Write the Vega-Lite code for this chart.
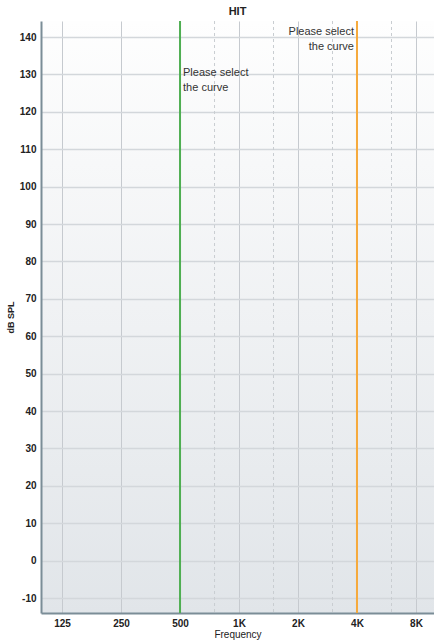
{
  "$schema": "https://vega.github.io/schema/vega-lite/v6.json",
  "width": 393,
  "height": 592,
  "autosize": "none",
  "padding": {"left": 41, "top": 21, "right": 0, "bottom": 27},
  "title": {"text": "HIT", "fontSize": 11, "font": "Liberation Sans", "fontWeight": "bold", "color": "#222222", "offset": 3},
  "config": {
    "view": {"stroke": null, "fill": {"gradient": "linear", "x1": 0, "y1": 0, "x2": 0, "y2": 1, "stops": [{"offset": 0, "color": "#fefefe"}, {"offset": 1, "color": "#e1e5e9"}]}},
    "axis": {"labelFont": "Liberation Sans", "labelFontWeight": "bold", "labelFontSize": 10, "labelColor": "#222222", "titleFont": "Liberation Sans", "titleColor": "#222222", "ticks": false, "domainColor": "#7b8d97", "domainWidth": 2, "labelPadding": 5, "labelOverlap": false}
  },
  "datasets": {
    "minor": [{"freq": 750}, {"freq": 1500}, {"freq": 3000}, {"freq": 6000}],
    "curves": [{"freq": 500, "curve": "left"}, {"freq": 4000, "curve": "right"}],
    "noteLeft": [{"freq": 500, "db": 132, "text": "Please select\nthe curve"}],
    "noteRight": [{"freq": 4000, "db": 143, "text": "Please select\nthe curve"}]
  },
  "layer": [
    {
      "data": {"name": "minor"},
      "mark": {"type": "rule", "color": "#c9cdd1", "strokeWidth": 1, "strokeDash": [3, 3]},
      "encoding": {
        "x": {"field": "freq", "type": "quantitative", "scale": {"type": "log", "base": 2, "domain": [97.6, 9888], "nice": false},
          "axis": {"values": [125, 250, 500, 1000, 2000, 4000, 8000], "tickCount": 20, "labelExpr": "datum.value >= 1000 ? (datum.value/1000) + 'K' : datum.value", "grid": true, "gridColor": "#c6cacf", "gridWidth": 1, "title": "Frequency", "titleFontSize": 10, "titleFontWeight": "normal", "titlePadding": 1}}
      }
    },
    {
      "data": {"name": "noteLeft"},
      "mark": {"type": "rule", "color": "#7b8d97", "strokeWidth": 2},
      "encoding": {
        "y": {"field": "db", "type": "quantitative", "scale": {"domain": [-14, 144.3], "nice": false, "zero": false},
          "axis": {"values": [-10, 0, 10, 20, 30, 40, 50, 60, 70, 80, 90, 100, 110, 120, 130, 140], "tickCount": 30, "labelExpr": "'' + datum.value", "labelOverlap": false, "grid": true, "gridColor": "#d3d7db", "gridWidth": 1.5, "title": "dB SPL", "titleFontSize": 9, "titleFontWeight": "bold", "titlePadding": 4}},
        "opacity": {"value": 0}
      }
    },
    {
      "mark": {"type": "rule", "color": "#7b8d97", "strokeWidth": 2},
      "encoding": {"y": {"datum": 144.3, "type": "quantitative"}}
    },
    {
      "mark": {"type": "rect", "color": "white", "opacity": 1},
      "encoding": {
        "x": {"datum": 506, "type": "quantitative"}, "x2": {"datum": 1124},
        "y": {"datum": 132, "type": "quantitative"}, "y2": {"datum": 123.7}
      }
    },
    {
      "mark": {"type": "rect", "color": "white", "opacity": 1},
      "encoding": {
        "x": {"datum": 1797, "type": "quantitative"}, "x2": {"datum": 3937},
        "y": {"datum": 143.2, "type": "quantitative"}, "y2": {"datum": 134.7}
      }
    },
    {
      "data": {"name": "curves"},
      "mark": {"type": "rule", "strokeWidth": 2},
      "encoding": {
        "x": {"field": "freq", "type": "quantitative"},
        "color": {"field": "curve", "type": "nominal", "scale": {"domain": ["left", "right"], "range": ["#4fae52", "#f6aa3c"]}, "legend": null}
      }
    },
    {
      "data": {"name": "noteLeft"},
      "mark": {"type": "text", "align": "left", "baseline": "top", "dx": 3, "font": "Liberation Sans", "fontSize": 11, "lineHeight": 15, "lineBreak": "\n", "color": "#333333"},
      "encoding": {
        "x": {"field": "freq", "type": "quantitative"},
        "y": {"field": "db", "type": "quantitative"},
        "text": {"field": "text"}
      }
    },
    {
      "data": {"name": "noteRight"},
      "mark": {"type": "text", "align": "right", "baseline": "top", "dx": -3, "font": "Liberation Sans", "fontSize": 11, "lineHeight": 15, "lineBreak": "\n", "color": "#333333"},
      "encoding": {
        "x": {"field": "freq", "type": "quantitative"},
        "y": {"field": "db", "type": "quantitative"},
        "text": {"field": "text"}
      }
    }
  ]
}
